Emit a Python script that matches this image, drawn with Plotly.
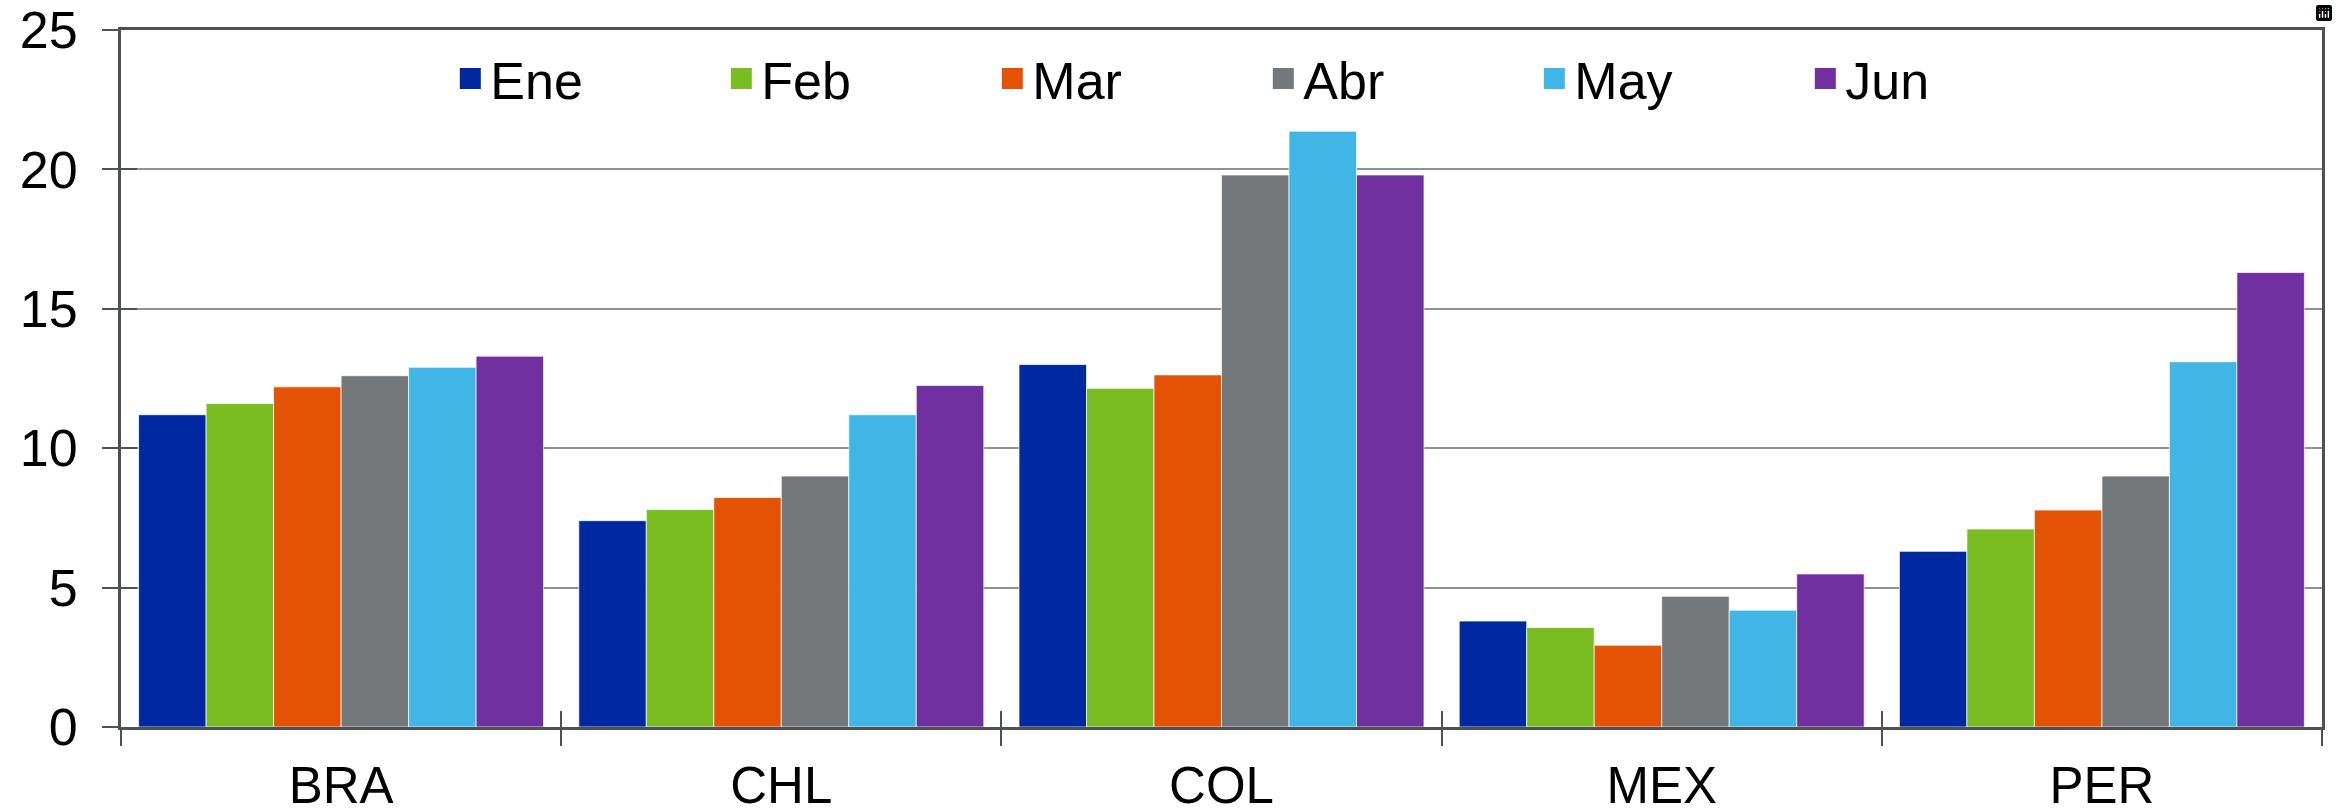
import plotly.graph_objects as go

countries = ["BRA", "CHL", "COL", "MEX", "PER"]
months = ["Ene", "Feb", "Mar", "Abr", "May", "Jun"]
ene = [11.2, 7.4, 13.0, 3.8, 6.3]
feb = [11.6, 7.8, 12.15, 3.57, 7.1]
mar = [12.2, 8.23, 12.63, 2.93, 7.78]
abr = [12.6, 9.0, 19.8, 4.69, 9.0]
may = [12.9, 11.2, 21.37, 4.19, 13.1]
jun = [13.3, 12.25, 19.8, 5.49, 16.3]
series = [ene, feb, mar, abr, may, jun]
colors = ["#0028A0", "#7ABD22", "#E35205", "#75787B", "#41B6E6", "#7030A0"]
yticks = [0, 5, 10, 15, 20, 25]

FONT = "Liberation Sans, Arial, sans-serif"
AXC = "#4d5156"
GRIDC = "#8e9296"
FS = 52

fig = go.Figure()
for name, vals, col in zip(months, series, colors):
    fig.add_trace(go.Bar(
        x=countries, y=vals, name=name, showlegend=False,
        marker=dict(color=col, line=dict(color="rgba(255,255,255,0.7)", width=1)),
    ))
# legend proxies (no data) on overlay axes
for name, col in zip(months, colors):
    fig.add_trace(go.Scatter(
        x=countries, y=[None] * len(countries), name=name, mode="markers",
        marker=dict(symbol="square", size=16, color=col, line=dict(color=col, width=5)),
        xaxis="x2", yaxis="y2", hoverinfo="skip",
    ))

fig.update_layout(
    width=2338, height=811,
    margin=dict(l=121, r=16, t=30, b=84, autoexpand=False),
    paper_bgcolor="white", plot_bgcolor="white",
    barmode="group", bargap=0.08, bargroupgap=0,
    font=dict(family=FONT, size=FS, color="black"),
    modebar=dict(bgcolor="rgba(0,0,0,0)", color="rgba(0,0,0,0)",
                 activecolor="rgba(0,0,0,0)"),
    legend=dict(
        orientation="h", x=0.519, xanchor="center", y=0.93, yanchor="middle",
        font=dict(size=FS), bgcolor="rgba(0,0,0,0)",
        entrywidth=226, entrywidthmode="pixels",
    ),
    xaxis=dict(
        type="category", categoryorder="array", categoryarray=countries,
        range=[-0.5, 4.5], tickson="boundaries", ticks="outside", ticklen=16,
        tickwidth=2, tickcolor=AXC, showline=True, linecolor=AXC, linewidth=3,
        mirror=True, showgrid=False, ticklabelstandoff=12, automargin=False,
        tickfont=dict(size=51),
    ),
    yaxis=dict(
        range=[0, 25], tickvals=yticks, ticks="outside", ticklen=16, tickwidth=2,
        tickcolor=AXC, showline=True, linecolor=AXC, linewidth=3, mirror=True,
        showgrid=True, gridcolor=GRIDC, gridwidth=2, zeroline=False,
        ticklabelstandoff=14, tickfont=dict(size=FS), automargin=False,
    ),
    xaxis2=dict(
        type="category", categoryorder="array", categoryarray=countries,
        range=[-0.5, 4.5], overlaying="x", side="bottom", tickson="boundaries",
        ticks="inside", ticklen=16, tickwidth=2, tickcolor=AXC,
        showticklabels=False, showgrid=False, showline=False, automargin=False,
    ),
    yaxis2=dict(
        range=[0, 25], tickvals=yticks, overlaying="y", side="left",
        ticks="inside", ticklen=16, tickwidth=2, tickcolor=AXC,
        showticklabels=False, showgrid=False, showline=False, zeroline=False,
        automargin=False,
    ),
)

fig.write_html(
    "out.html",
    post_script="document.body.style.margin='0';document.body.style.overflow='hidden';",
)
